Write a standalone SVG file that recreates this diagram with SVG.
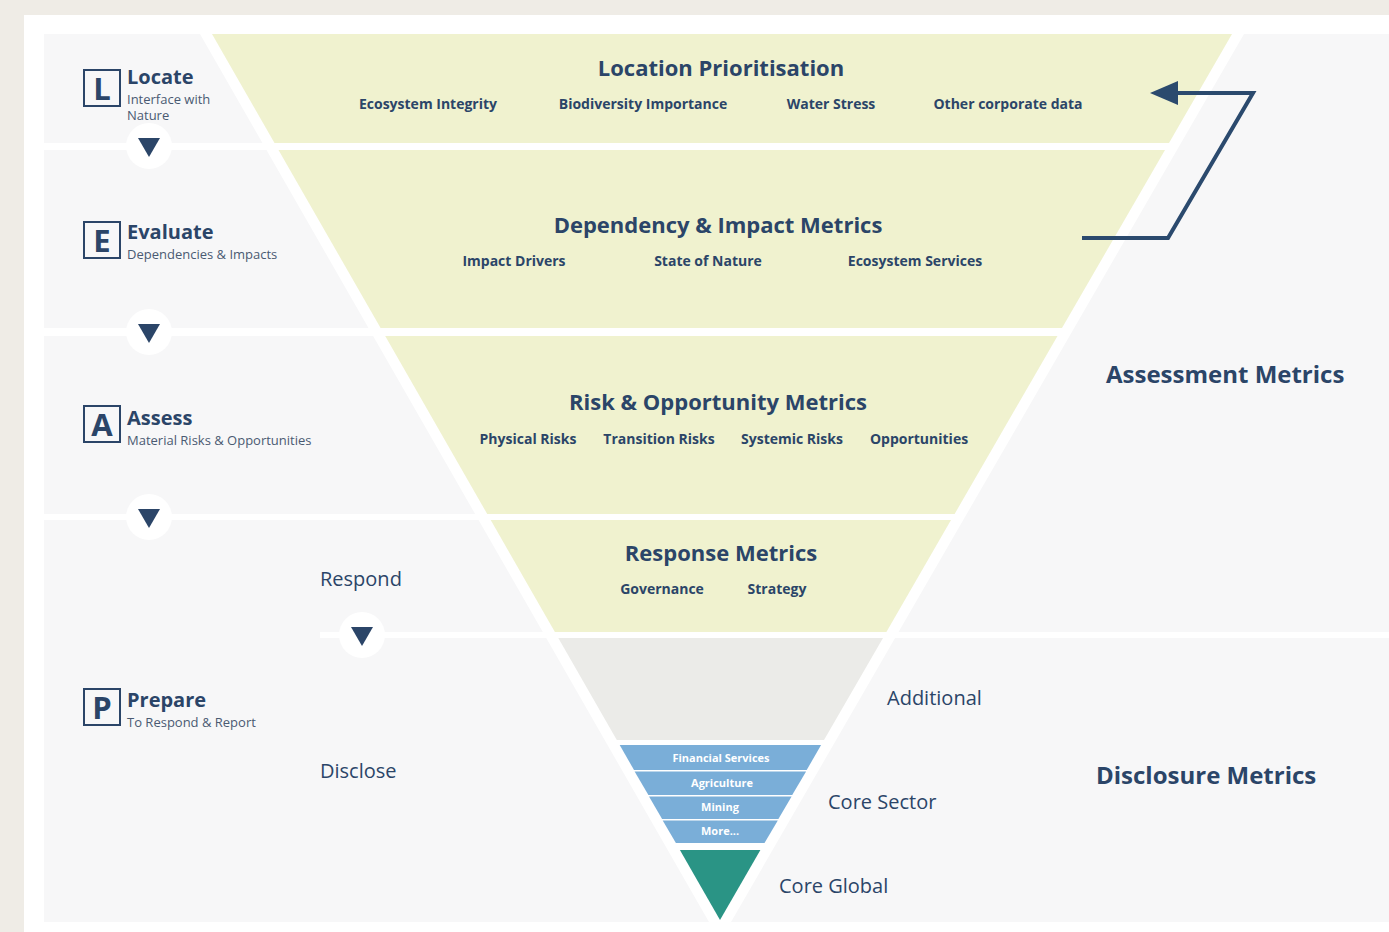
<svg xmlns="http://www.w3.org/2000/svg" width="1389" height="932" viewBox="0 0 1389 932">
<defs>
<style>
.t{font-family:"Open Sans","Liberation Sans",sans-serif;fill:#2b4568}
.h{font-weight:700;font-size:22px;text-anchor:middle}
.s{font-weight:700;font-size:14px;text-anchor:middle}
.big{font-weight:700;font-size:24px}
.lab{font-size:20px}
.st{font-weight:700;font-size:20px}
.sub{font-size:13px;fill:#4a5a72}
.letter{font-weight:700;font-size:31px;text-anchor:middle}
.box{fill:none;stroke:#2b4568;stroke-width:2}
.yel{fill:#f0f2cf}
.blue{fill:#7aaed8}
.bl{font-family:"Open Sans","Liberation Sans",sans-serif;font-weight:700;font-size:11px;fill:#ffffff;text-anchor:middle}
.sep{fill:#ffffff}
.tri{fill:#2b4568}
</style>
<marker id="ah" markerUnits="userSpaceOnUse" markerWidth="28" markerHeight="26" refX="13" refY="12" orient="auto">
<path d="M0,0 L28,12 L0,24 z" fill="#2b4a6e"/>
</marker>
</defs>
<rect x="0" y="0" width="1389" height="932" fill="#efece6"/>
<rect x="24" y="15" width="1365" height="917" fill="#ffffff"/>
<rect x="44" y="34" width="1345" height="888" fill="#f7f7f8"/>
<g id="separators">
<rect class="sep" x="44" y="143" width="680" height="7"/>
<rect class="sep" x="44" y="328" width="680" height="8"/>
<rect class="sep" x="44" y="514" width="680" height="6"/>
<rect class="sep" x="320" y="632" width="1069" height="6"/>
<polygon class="sep" points="200,34 1244,34 731,922 709,922"/>
</g>
<g id="tier-location">
<polygon class="yel" points="212,34 1232,34 1169,143 274.5,143"/>
<text class="t h" x="721" y="76">Location Prioritisation</text>
<text class="t s" x="428" y="109">Ecosystem Integrity</text>
<text class="t s" x="643" y="109">Biodiversity Importance</text>
<text class="t s" x="831" y="109">Water Stress</text>
<text class="t s" x="1008" y="109">Other corporate data</text>
</g>
<g id="tier-dependency">
<polygon class="yel" points="278.5,150 1165,150 1062,328 380.6,328"/>
<text class="t h" x="718" y="233">Dependency &amp; Impact Metrics</text>
<text class="t s" x="514" y="266">Impact Drivers</text>
<text class="t s" x="708" y="266">State of Nature</text>
<text class="t s" x="915" y="266">Ecosystem Services</text>
</g>
<g id="tier-risk">
<polygon class="yel" points="385.2,336 1057.5,336 954.6,514 487.2,514"/>
<text class="t h" x="718" y="410">Risk &amp; Opportunity Metrics</text>
<text class="t s" x="528" y="444">Physical Risks</text>
<text class="t s" x="659" y="444">Transition Risks</text>
<text class="t s" x="792" y="444">Systemic Risks</text>
<text class="t s" x="919" y="444">Opportunities</text>
</g>
<g id="tier-response">
<polygon class="yel" points="490.7,520 951,520 886.4,632 554.9,632"/>
<text class="t h" x="721" y="561">Response Metrics</text>
<text class="t s" x="662" y="594">Governance</text>
<text class="t s" x="777" y="594">Strategy</text>
</g>
<g id="tier-additional">
<polygon fill="#ebebe8" points="558.3,638 883,638 824,740 616.8,740"/>
</g>
<g id="tier-core-sector">
<polygon class="blue" points="619.7,745 821.1,745 806.7,770 634,770"/>
<polygon class="blue" points="634.6,771.5 806.1,771.5 792.2,795 648.4,795"/>
<polygon class="blue" points="649,796.5 791.6,796.5 778.4,819 662.1,819"/>
<polygon class="blue" points="662.7,820.5 777.8,820.5 764.5,843 675.9,843"/>
<text class="bl" x="721" y="762">Financial Services</text>
<text class="bl" x="722" y="787">Agriculture</text>
<text class="bl" x="720" y="811">Mining</text>
<text class="bl" x="720" y="835">More...</text>
</g>
<g id="tier-core-global">
<polygon fill="#2a9485" points="679.9,850 760.4,850 720,920"/>
</g>
<g id="step-locate">
<rect class="box" x="84" y="70" width="36" height="36"/>
<text class="t letter" x="102" y="100">L</text>
<text class="t st" x="127" y="84">Locate</text>
<text class="t sub" x="127" y="104">Interface with</text>
<text class="t sub" x="127" y="120">Nature</text>
</g>
<g id="step-evaluate">
<rect class="box" x="84" y="222" width="36" height="36"/>
<text class="t letter" x="102" y="252">E</text>
<text class="t st" x="127" y="239">Evaluate</text>
<text class="t sub" x="127" y="259">Dependencies &amp; Impacts</text>
</g>
<g id="step-assess">
<rect class="box" x="84" y="406" width="36" height="36"/>
<text class="t letter" x="102" y="436">A</text>
<text class="t st" x="127" y="425">Assess</text>
<text class="t sub" x="127" y="445">Material Risks &amp; Opportunities</text>
</g>
<g id="step-prepare">
<rect class="box" x="84" y="689" width="36" height="36"/>
<text class="t letter" x="102" y="719">P</text>
<text class="t st" x="127" y="707">Prepare</text>
<text class="t sub" x="127" y="727">To Respond &amp; Report</text>
</g>
<g id="labels">
<text class="t lab" x="320" y="586">Respond</text>
<text class="t lab" x="320" y="778">Disclose</text>
<text class="t lab" x="887" y="705">Additional</text>
<text class="t lab" x="828" y="809">Core Sector</text>
<text class="t lab" x="779" y="893">Core Global</text>
<text class="t big" x="1106" y="383">Assessment Metrics</text>
<text class="t big" x="1096" y="784">Disclosure Metrics</text>
</g>
<g id="connectors">
<circle cx="149" cy="146" r="23" fill="#ffffff"/>
<polygon class="tri" points="138,138 160,138 149,157"/>
<circle cx="149" cy="332" r="23" fill="#ffffff"/>
<polygon class="tri" points="138,324 160,324 149,343"/>
<circle cx="149" cy="517" r="23" fill="#ffffff"/>
<polygon class="tri" points="138,509 160,509 149,528"/>
<circle cx="362" cy="635" r="23" fill="#ffffff"/>
<polygon class="tri" points="351,627 373,627 362,646"/>
<polyline points="1082,238 1168,238 1253,93 1165,93" fill="none" stroke="#2b4a6e" stroke-width="4" marker-end="url(#ah)"/>
</g>
</svg>
